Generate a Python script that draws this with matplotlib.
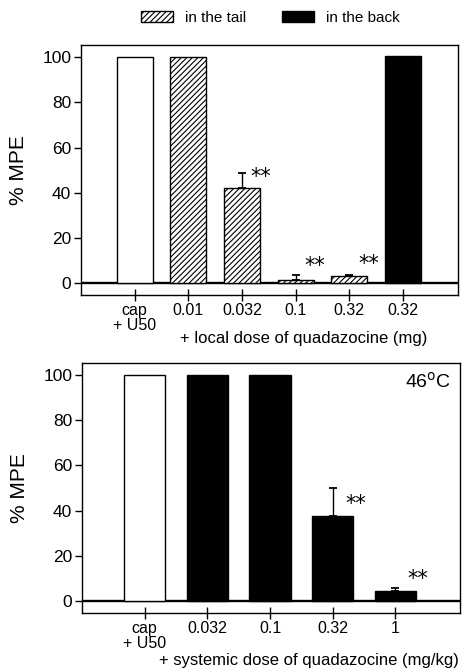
import matplotlib
matplotlib.use("Agg")
import matplotlib.pyplot as plt
from matplotlib.patches import Patch

plt.rcParams['font.family'] = ['Liberation Sans', 'DejaVu Sans']
plt.rcParams['hatch.linewidth'] = 0.8

# Top panel: local dose
top_labels = ["cap\n+ U50", "0.01", "0.032", "0.1", "0.32", "0.32"]
top_values = [100, 100, 42, 1.5, 3, 100.5]
top_err = [0, 0, 7, 2.2, 0.7, 0]
top_kind = ["open", "tail", "tail", "tail", "tail", "back"]
top_sig = [False, False, True, True, True, False]
top_sig_y = [0, 0, 47, 7.5, 8.5, 0]

# Bottom panel: systemic dose
bot_labels = ["cap\n+ U50", "0.032", "0.1", "0.32", "1"]
bot_values = [100, 100, 100, 37.7, 4.4]
bot_err = [0, 0, 0, 12.2, 1.5]
bot_kind = ["open", "back", "back", "back", "back"]
bot_sig = [False, False, False, True, True]
bot_sig_y = [0, 0, 0, 43, 10]

fig = plt.figure(figsize=(4.68, 6.72), dpi=100)
ax1 = fig.add_axes([0.173, 0.561, 0.806, 0.372])
ax2 = fig.add_axes([0.175, 0.088, 0.808, 0.372])


def draw(ax, labels, values, err, kind, sig, sig_y, width, xlim):
    xs = list(range(1, len(labels) + 1))
    for x, v, k in zip(xs, values, kind):
        if k == "open":
            ax.bar(x, v, width, facecolor="white", edgecolor="black", linewidth=1.0, zorder=2)
        elif k == "tail":
            ax.bar(x, v, width, facecolor="white", edgecolor="black", hatch="//////", linewidth=1.0, zorder=2)
        else:
            ax.bar(x, v, width, facecolor="black", edgecolor="black", linewidth=1.0, zorder=2)
    for x, v, e in zip(xs, values, err):
        if e > 0:
            ax.errorbar(x, v, yerr=[[0], [e]], fmt="none", ecolor="black", elinewidth=1.0,
                        capsize=2.6, capthick=1.3, zorder=3)
    for x, s, y in zip(xs, sig, sig_y):
        if s:
            ax.text(x + 0.36, y, "**", ha="center", va="center", fontsize=15,
                    family=["DejaVu Sans"], zorder=4)
    ax.axhline(0, color="black", linewidth=1.7, zorder=1)
    ax.set_xlim(*xlim)
    ax.set_ylim(-5.2, 105.4)
    ax.set_xticks(xs)
    ax.set_xticklabels(labels, fontsize=11.5, linespacing=0.95)
    ax.set_yticks([0, 20, 40, 60, 80, 100])
    ax.tick_params(axis="y", direction="out", length=5, width=1.0, labelsize=12.5, pad=2)
    ax.tick_params(axis="x", direction="inout", length=8, width=1.0, labelsize=11.5, pad=2)
    for sp in ax.spines.values():
        sp.set_linewidth(1.0)
    ax.set_ylabel("% MPE", fontsize=15, labelpad=10)


draw(ax1, top_labels, top_values, top_err, top_kind, top_sig, top_sig_y, 0.67, (0, 7.03))
draw(ax2, bot_labels, bot_values, bot_err, bot_kind, bot_sig, bot_sig_y, 0.655, (0, 6.03))

ax1.set_xlabel("+ local dose of quadazocine (mg)", fontsize=12, labelpad=-1, x=0.59)
ax2.set_xlabel("+ systemic dose of quadazocine (mg/kg)", fontsize=12, labelpad=2, x=0.6)

ax2.text(0.975, 0.925, "46$^{\\rm o}$C", transform=ax2.transAxes, ha="right", va="center", fontsize=14)

handles = [Patch(facecolor="white", edgecolor="black", hatch="//////", label="in the tail"),
           Patch(facecolor="black", edgecolor="black", label="in the back")]
fig.legend(handles=handles, loc="center", bbox_to_anchor=(0.578, 0.973), ncol=2, frameon=False,
           fontsize=11, handlelength=2.1, handleheight=0.7, columnspacing=2.3, handletextpad=0.8)

fig.savefig("out.png", dpi=100)
